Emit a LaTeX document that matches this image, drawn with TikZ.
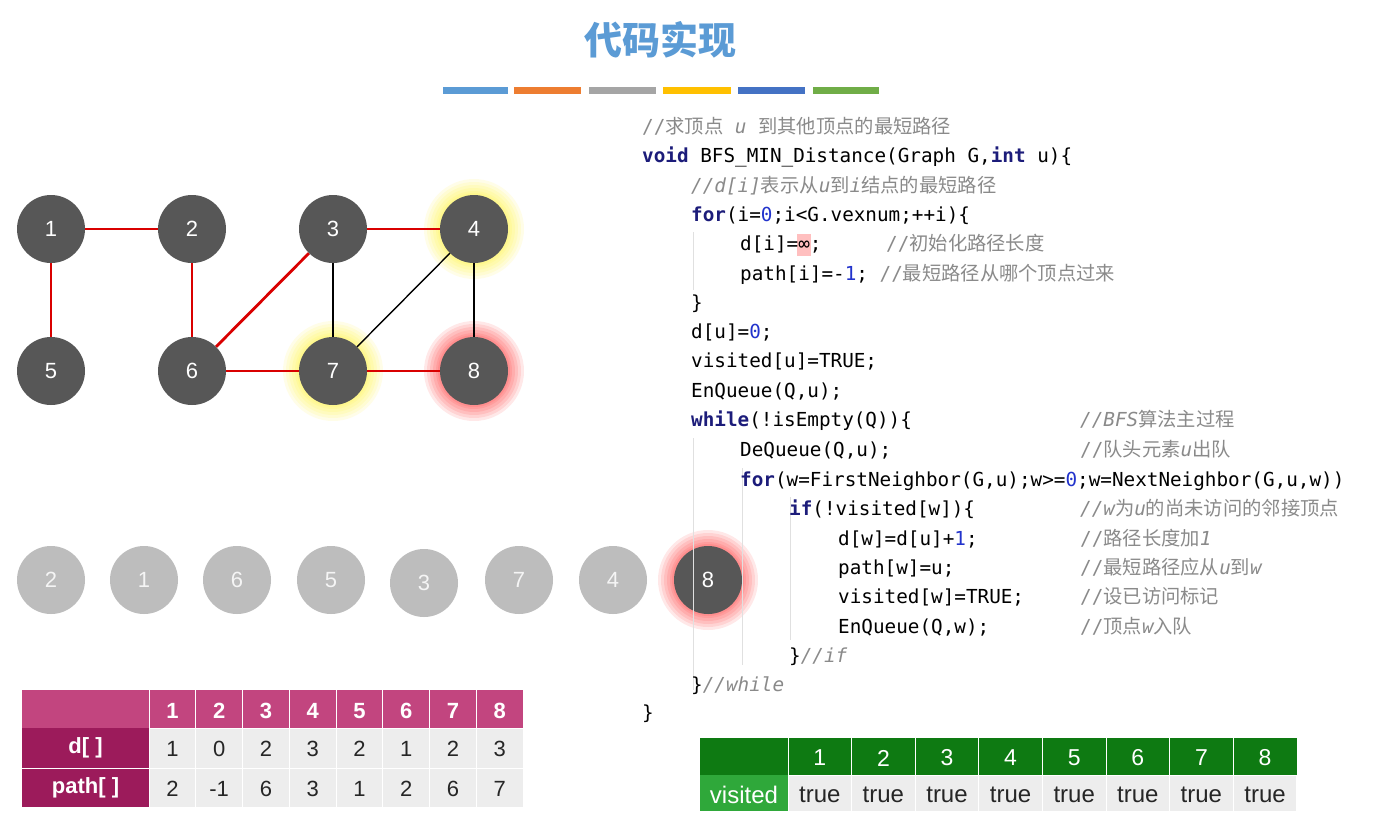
\documentclass[tikz,border=0pt]{standalone}
\usepackage{fontspec}
\setmainfont{Liberation Sans}
\setmonofont{DejaVu Sans Mono}
\newfontfamily\cjk{Noto Sans CJK SC}
\definecolor{nodec}{HTML}{575757}
\definecolor{qc}{HTML}{BDBDBD}
\definecolor{kwc}{HTML}{1C1C7A}
\definecolor{nmc}{HTML}{2233CC}
\definecolor{cmc}{HTML}{8A8A8A}
\definecolor{titc}{HTML}{5B9BD5}
\definecolor{hdr}{HTML}{C2457F}
\definecolor{rowh}{HTML}{9C1B5B}
\definecolor{cellc}{HTML}{EDEDED}
\definecolor{gh}{HTML}{0E7A12}
\definecolor{gl}{HTML}{2FA83A}
\newcommand{\kw}[1]{{\color{kwc}\bfseries #1}}
\newcommand{\nm}[1]{{\color{nmc}#1}}
\newcommand{\cm}[1]{{\color{cmc}#1}}
\newcommand{\zh}[1]{{\cjk #1}}
\newcommand{\ii}[1]{{\itshape #1}}
\begin{document}
\begin{tikzpicture}[x=1pt,y=-1pt,
  gn/.style={circle,fill=nodec,minimum size=68pt,inner sep=0,text=white,font=\fontsize{22}{22}\selectfont},
  qn/.style={circle,fill=qc,minimum size=68pt,inner sep=0,text=white!92!gray,font=\fontsize{22}{22}\selectfont},
  re/.style={draw=red!85!black,line width=2.8pt},
  be/.style={draw=black,line width=1.4pt},
  code/.style={anchor=base west,inner sep=0,font=\ttfamily\fontsize{19.3}{21}\selectfont},
  tnum/.style={font=\fontsize{22}{22}\selectfont}]
\useasboundingbox (0,0) rectangle (1381,820);
\fill[white] (0,0) rectangle (1381,820);
% title
\node[text=titc,font=\cjk\bfseries\fontsize{38}{38}\selectfont] (title) at (660,40) {代码实现};
\foreach \a/\b/\c in {443/508/5B9BD5,514/581/ED7D31,589/656/A5A5A5,663/731/FFC000,738/805/4472C4,813/879/70AD47}
  {\definecolor{tmp}{HTML}{\c}\fill[tmp] (\a,87) rectangle (\b,94);}
% glows
\foreach \p/\c in {{(474,229)}/yellow,{(333,371)}/yellow,{(474,371)}/red,{(708,580)}/red}{
  \foreach \r in {50,47,44,41,38,36}{\fill[\c,opacity=0.09] \p circle (\r);}}
% graph
\node[gn] (n1) at (51,229) {1};
\node[gn] (n2) at (192,229) {2};
\node[gn] (n3) at (333,229) {3};
\node[gn] (n4) at (474,229) {4};
\node[gn] (n5) at (51,371) {5};
\node[gn] (n6) at (192,371) {6};
\node[gn] (n7) at (333,371) {7};
\node[gn] (n8) at (474,371) {8};
\draw[re] (n1)--(n2); \draw[re] (n1)--(n5); \draw[re] (n2)--(n6);
\draw[re] (n6)--(n3); \draw[re] (n3)--(n4); \draw[re] (n6)--(n7); \draw[re] (n7)--(n8);
\draw[be] (n3)--(n7); \draw[be] (n7)--(n4); \draw[be] (n4)--(n8);
% queue
\node[qn] (q1) at (51,580) {2};
\node[qn] (q2) at (144,580) {1};
\node[qn] (q3) at (237,580) {6};
\node[qn] (q4) at (331,580) {5};
\node[qn] (q5) at (424,583) {3};
\node[qn] (q6) at (519,580) {7};
\node[qn] (q7) at (613,580) {4};
\node[gn] (q8) at (708,580) {8};
% code guide lines
\draw[black!12,line width=0.8pt] (693,232)--(693,290) (693,438)--(693,690) (742,468)--(742,665) (790,497)--(790,640);
\fill[red!25] (797,234) rectangle (811,256);
\node[code] (c1) at (642,133) {\cm{//\zh{求顶点} \ii{u} \zh{到其他顶点的最短路径}}};
\node[code] (c2) at (642,162) {\kw{void} BFS\_MIN\_Distance(Graph G,\kw{int} u)\{};
\node[code] (c3) at (691,192) {\cm{\ii{//d[i]}\zh{表示从}\ii{u}\zh{到}\ii{i}\zh{结点的最短路径}}};
\node[code] (c4) at (691,221) {\kw{for}(i=\nm{0};i<G.vexnum;++i)\{};
\node[code] (c5) at (740,250) {d[i]=∞;};
\node[code] (c5b) at (886,250) {\cm{//\zh{初始化路径长度}}};
\node[code] (c6) at (740,280) {path[i]=-\nm{1}; \cm{//\zh{最短路径从哪个顶点过来}}};
\node[code] (c7) at (691,309) {\}};
\node[code] (c8) at (691,338) {d[u]=\nm{0};};
\node[code] (c9) at (691,367) {visited[u]=TRUE;};
\node[code] (c10) at (691,397) {EnQueue(Q,u);};
\node[code] (c11) at (691,426) {\kw{while}(!isEmpty(Q))\{};
\node[code] (m11) at (1080,426) {\cm{\ii{//BFS}\zh{算法主过程}}};
\node[code] (c12) at (740,456) {DeQueue(Q,u);};
\node[code] (m12) at (1080,456) {\cm{//\zh{队头元素}\ii{u}\zh{出队}}};
\node[code] (c13) at (740,486) {\kw{for}(w=FirstNeighbor(G,u);w>=\nm{0};w=NextNeighbor(G,u,w))};
\node[code] (c14) at (789,515) {\kw{if}(!visited[w])\{};
\node[code] (m14) at (1080,515) {\cm{\ii{//w}\zh{为}\ii{u}\zh{的尚未访问的邻接顶点}}};
\node[code] (c15) at (838,545) {d[w]=d[u]+\nm{1};};
\node[code] (m15) at (1080,545) {\cm{//\zh{路径长度加}\ii{1}}};
\node[code] (c16) at (838,574) {path[w]=u;};
\node[code] (m16) at (1080,574) {\cm{//\zh{最短路径应从}\ii{u}\zh{到}\ii{w}}};
\node[code] (c17) at (838,603) {visited[w]=TRUE;};
\node[code] (m17) at (1080,603) {\cm{//\zh{设已访问标记}}};
\node[code] (c18) at (838,633) {EnQueue(Q,w);};
\node[code] (m18) at (1080,633) {\cm{//\zh{顶点}\ii{w}\zh{入队}}};
\node[code] (c19) at (789,662) {\}\cm{\ii{//if}}};
\node[code] (c20) at (691,691) {\}\cm{\ii{//while}}};
\node[code] (c21) at (642,719) {\}};
% left table
\fill[hdr] (22,690) rectangle (523,728);
\fill[rowh] (22,728) rectangle (149,807);
\draw[white,line width=1pt] (22,768)--(149,768);
\node[text=white,font=\bfseries\fontsize{22}{22}\selectfont] (dl) at (85.5,748) {d[ ]};
\node[text=white,font=\bfseries\fontsize{22}{22}\selectfont] (pl) at (85.5,788) {path[ ]};
\foreach \i/\d/\p in {1/1/2,2/0/-1,3/2/6,4/3/3,5/2/1,6/1/2,7/2/6,8/3/7}{
  \pgfmathsetmacro{\xa}{149+(\i-1)*46.75}
  \pgfmathsetmacro{\xb}{\xa+46.75}
  \pgfmathsetmacro{\xm}{\xa+23.4}
  \draw[white,line width=0.8pt] (\xa,690)--(\xa,728);
  \fill[cellc,draw=white,line width=0.8pt] (\xa,728) rectangle (\xb,768);
  \fill[cellc,draw=white,line width=0.8pt] (\xa,768) rectangle (\xb,807);
  \node[text=white,font=\bfseries\fontsize{22}{22}\selectfont] at (\xm,711) {\i};
  \node[text=black!85,tnum] at (\xm,749) {\d};
  \node[text=black!85,tnum] at (\xm,789) {\p};
}
% visited table
\fill[gh] (700,738) rectangle (1297,775);
\fill[gl] (700,775) rectangle (788,811);
\node[text=white,font=\fontsize{24}{24}\selectfont] (vl) at (744,795) {visited};
\foreach \i in {1,...,8}{
  \pgfmathsetmacro{\xa}{788+(\i-1)*63.6}
  \pgfmathsetmacro{\xb}{\xa+63.6}
  \pgfmathsetmacro{\xm}{\xa+31.8}
  \draw[white,line width=0.8pt] (\xa,738)--(\xa,775);
  \fill[cellc,draw=white,line width=0.8pt] (\xa,775) rectangle (\xb,811);
  \node[text=white,font=\fontsize{23}{23}\selectfont] at (\xm,758) {\i};
  \node[text=black!85,font=\fontsize{24}{24}\selectfont] at (\xm,795) {true};
}
\end{tikzpicture}
\end{document}
